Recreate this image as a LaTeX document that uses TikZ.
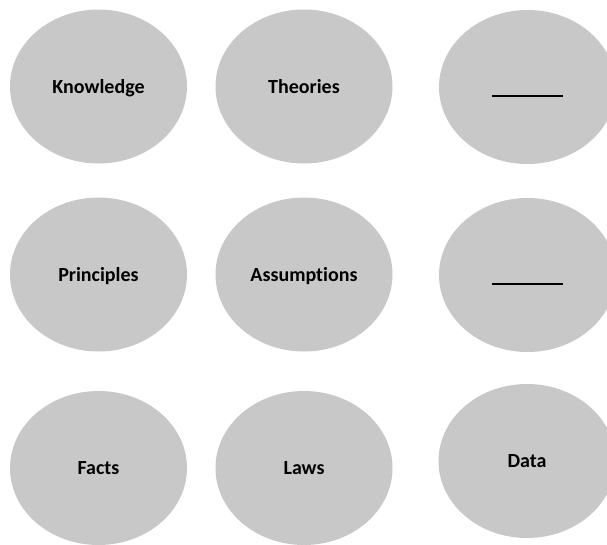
\documentclass[tikz,border=0pt]{standalone}
\usepackage{fontspec}
\setmainfont{Carlito}[Ligatures=NoCommon]
\usetikzlibrary{shapes.geometric}
\definecolor{bubblegray}{RGB}{200,200,200}
\newcommand{\blankline}{\rule[-3.2pt]{71.5pt}{2pt}}
\begin{document}
\begin{tikzpicture}[x=1pt,y=-1pt,
  bubble/.style={ellipse, fill=bubblegray, draw=none, inner sep=0pt,
    minimum width=177pt, minimum height=154pt,
    text height=13pt, text depth=0pt,
    font=\fontsize{20}{24}\selectfont\bfseries}]
\fill[white] (0,0) rectangle (607,544);
\useasboundingbox (0,0) rectangle (607,544);
\node[bubble] (knowledge) at (98.5,86.5) {Knowledge};
\node[bubble] (theories) at (304,86.5) {Theories};
\node[bubble] (blankA) at (527.5,87) {\blankline};
\node[bubble] (principles) at (98.5,274.5) {Principles};
\node[bubble] (assumptions) at (304,274.5) {Assumptions};
\node[bubble] (blankB) at (527.5,275) {\blankline};
\node[bubble] (facts) at (98.5,468) {Facts};
\node[bubble] (laws) at (304,468) {Laws};
\node[bubble] (data) at (527,461) {Data};
\end{tikzpicture}
\end{document}
